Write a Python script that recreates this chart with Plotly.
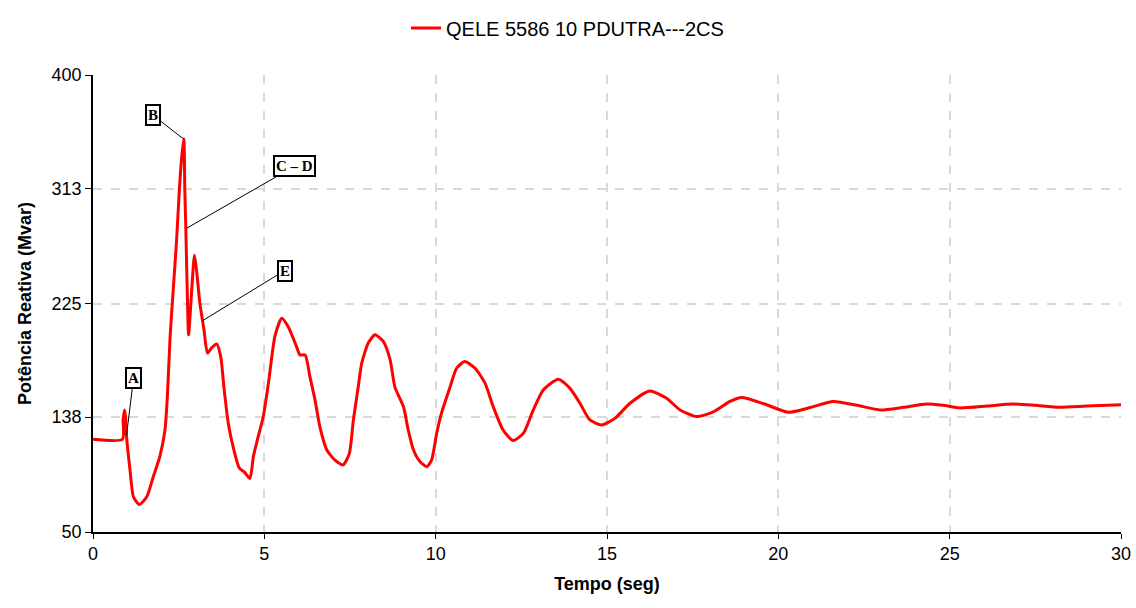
import plotly.graph_objects as go

# Time (s) and reactive power (Mvar)
tempo = [0.0, 0.86, 0.88, 0.92, 0.95, 0.98, 1.08, 1.18, 1.35, 1.57, 1.76, 1.95, 2.10, 2.17, 2.25,
         2.34, 2.44, 2.52, 2.59, 2.65, 2.68, 2.71, 2.75, 2.79, 2.88, 2.96, 3.02, 3.12, 3.24,
         3.34, 3.46, 3.61, 3.73, 3.82, 3.95, 4.11, 4.27, 4.43, 4.58, 4.68, 4.82, 4.97,
         5.12, 5.31, 5.51, 5.70, 5.94, 6.04, 6.19, 6.33, 6.48, 6.62, 6.82, 7.06, 7.30,
         7.48, 7.60, 7.74, 7.84, 8.03, 8.23, 8.47, 8.67, 8.81, 9.06, 9.20, 9.35, 9.54,
         9.74, 9.88, 10.03, 10.17, 10.42, 10.61, 10.85, 11.15, 11.44, 11.68, 11.97, 12.26,
         12.56, 12.85, 13.14, 13.58, 13.92, 14.21, 14.50, 14.84, 15.23, 15.67, 16.25,
         16.74, 17.13, 17.62, 18.10, 18.59, 18.93, 19.60, 20.29, 20.95, 21.60, 22.30,
         22.97, 23.65, 24.33, 24.80, 25.30, 26.10, 26.85, 27.50, 28.20, 29.00, 30.0]
qele = [121, 121, 136, 143.5, 138, 123, 97.5, 77, 71, 77, 92.5, 107.8, 128, 153.7, 199.6,
        235, 273.7, 312, 337.5, 351, 312, 281, 235, 201, 235, 262, 250.7, 225, 204.7,
        187, 191, 194, 184, 161, 133, 113, 99, 95.5, 91, 107.8, 123, 138.5,
        164, 200, 213.7, 207, 192, 185.6, 185.6, 169, 151, 130.7, 113, 105, 101.4,
        110, 136, 161, 179, 194.6, 201, 196, 182, 161, 146, 128, 113, 104,
        100, 105, 125.6, 141, 161, 175.4, 180.5, 175.4, 164, 146, 128, 120,
        125.6, 143.5, 158.8, 167, 160, 148.6, 135.8, 132, 137, 148.6, 158,
        152.4, 143.5, 138.4, 142, 150, 153, 148, 141.7, 145.5, 150, 147,
        143.5, 145.5, 148, 147, 145, 146.5, 148, 147, 145.6, 146.5, 147.5]

serie_nome = "QELE 5586 10 PDUTRA---2CS"
y_ticks = [50, 138, 225, 313, 400]
x_ticks = [0, 5, 10, 15, 20, 25, 30]

# annotation labels: (text, t, value, ax, ay)
rotulos = [("A", 0.98, 124.4, 7, -57),
           ("B", 2.655, 350.8, -31, -24),
           ("C \u2013 D", 2.73, 282.6, 108, -62),
           ("E", 3.20, 211.9, 82, -50)]

fig = go.Figure()
fig.add_trace(go.Scatter(x=tempo, y=qele, mode="lines", name=serie_nome,
                         line=dict(color="#ff0000", width=3, shape="spline", smoothing=0.6)))

for txt, tx, ty, ax, ay in rotulos:
    fig.add_annotation(x=tx, y=ty, xref="x", yref="y", ax=ax, ay=ay,
                       text="<b>" + txt + "</b>", showarrow=True, arrowhead=0,
                       arrowwidth=1, arrowcolor="black", standoff=0,
                       font=dict(family="Liberation Serif", size=15, color="black"),
                       bgcolor="white", bordercolor="black", borderwidth=2, borderpad=1)

fig.update_layout(
    width=1136, height=608,
    margin=dict(l=93, r=15, t=75, b=76, autoexpand=False),
    paper_bgcolor="white", plot_bgcolor="white",
    font=dict(family="Liberation Sans", color="black"),
    showlegend=True,
    legend=dict(orientation="h", x=0.3045, xanchor="left", y=1.103, yanchor="middle",
                font=dict(size=20, color="black"), itemwidth=30),
    xaxis=dict(range=[0, 30], tickvals=x_ticks, showline=True, linecolor="black", linewidth=1.5,
               ticks="outside", ticklen=5, tickcolor="black",
               showgrid=True, gridcolor="#d9d9d9", griddash="dash", gridwidth=1.5,
               zeroline=False, tickfont=dict(size=18), automargin=False,
               title=dict(text="<b>Tempo (seg)</b>", font=dict(size=18), standoff=14)),
    yaxis=dict(range=[50, 400], tickvals=y_ticks, showline=True, linecolor="black", linewidth=1.5,
               ticks="outside", ticklen=6, tickcolor="black",
               showgrid=True, gridcolor="#d9d9d9", griddash="dash", gridwidth=1.5,
               zeroline=False, tickfont=dict(size=18), automargin=False,
               title=dict(text="<b>Potência Reativa (Mvar)</b>", font=dict(size=18), standoff=15)),
)

fig.write_html("out.html")
